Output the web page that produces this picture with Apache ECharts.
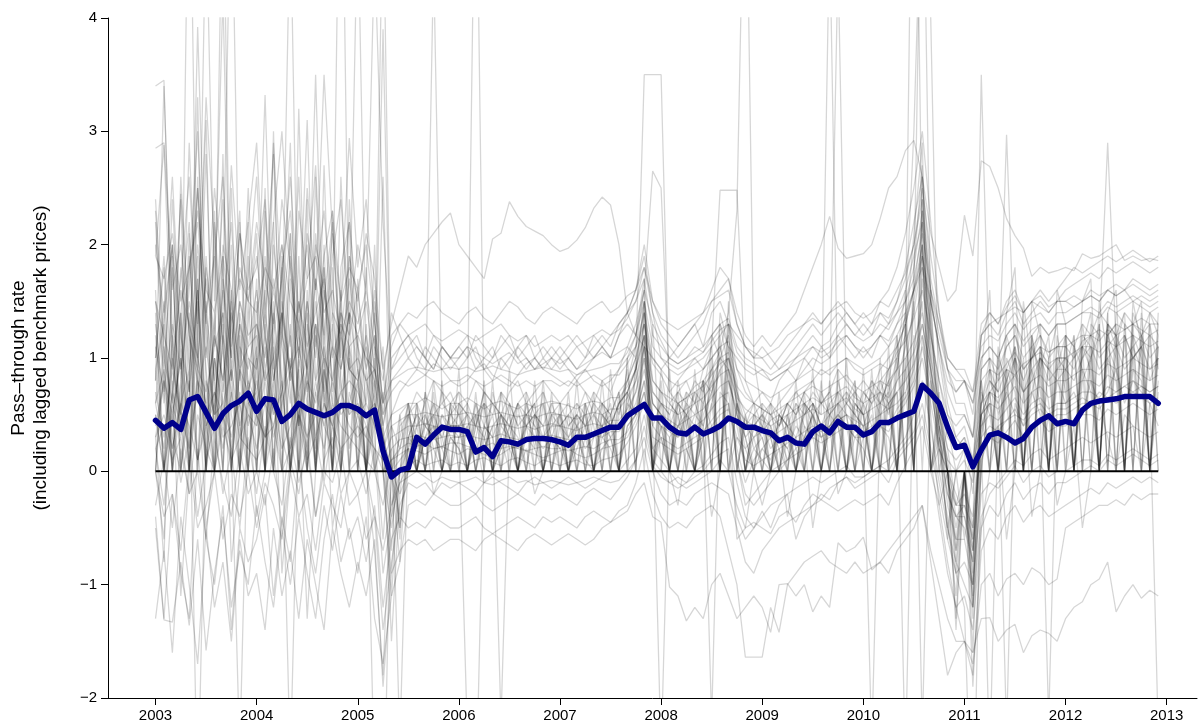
<!DOCTYPE html>
<html>
<head>
<meta charset="utf-8">
<script src="https://cdn.jsdelivr.net/npm/echarts@6/dist/echarts.min.js"></script>
<style>
  html, body { margin: 0; padding: 0; background: #ffffff; }
  #chart { width: 1199px; height: 726px; }
</style>
</head>
<body>
<div id="chart"></div>
<script>
// Monthly pass-through rates, January 2003 to December 2012 (one value per month).
const startYear = 2003;
const yearTicks = [2003, 2004, 2005, 2006, 2007, 2008, 2009, 2010, 2011, 2012, 2013];
const yTitle = 'Pass\u2013through rate\n(including lagged benchmark prices)';

// Average pass-through rate across all products (thick blue line)
const meanRate = [
  0.45,0.38,0.43,0.37,0.63,0.66,0.52,0.38,0.51,0.58,0.62,0.69,
  0.53,0.64,0.63,0.44,0.50,0.60,0.55,0.52,0.49,0.52,0.58,0.58,
  0.55,0.49,0.54,0.18,-0.05,0.01,0.03,0.30,0.24,0.32,0.39,0.37,
  0.37,0.35,0.17,0.21,0.13,0.27,0.26,0.24,0.28,0.29,0.29,0.28,
  0.26,0.23,0.30,0.30,0.33,0.36,0.39,0.39,0.49,0.54,0.59,0.47,
  0.47,0.39,0.34,0.33,0.39,0.33,0.36,0.40,0.47,0.44,0.39,0.39,
  0.36,0.34,0.27,0.30,0.25,0.24,0.35,0.40,0.34,0.44,0.39,0.39,
  0.32,0.35,0.43,0.43,0.47,0.50,0.53,0.76,0.69,0.60,0.39,0.21,
  0.23,0.04,0.19,0.32,0.34,0.30,0.25,0.29,0.39,0.45,0.49,0.42,
  0.44,0.42,0.54,0.60,0.62,0.63,0.64,0.66,0.66,0.66,0.66,0.60
];

// Individual product rates (thin grey lines)
const rate01 = [
  1.2,0,1.8,0.4,2.1,0,1.5,0.3,1.9,0,1.1,0.6,
  1.7,0,2.2,0.5,1.3,0,1.6,0.2,2.0,0,0.9,1.4,
  0,1.8,0.3,-0.6,0.4,0.2,0.6,0,0.5,0.3,0.7,0.4,
  0.5,0.3,0.6,0.2,0.4,0.5,0.3,0.6,0.4,0.5,0.3,0.4,
  0.4,0.3,0.5,0.4,0.6,0.5,0.4,0.6,0.8,1.0,1.3,0.6,
  0.5,0.4,0.3,0.5,0.6,0.4,0.7,1.0,1.2,0.6,0.2,0.3,
  0.4,0.2,0.3,0.1,0.3,0.5,0.6,0.4,0.5,0.7,0.6,0.5,
  0.4,0.6,0.7,0.5,0.8,1.1,1.4,1.9,0.9,0.3,-0.2,-0.4,
  -0.4,-0.8,0.6,0.9,0.5,0.7,1.0,0,1.2,0.8,0,1.1,
  0.7,0,1.0,1.2,0,1.3,1.1,0,1.2,1.0,0,1.1
];
const rate02 = [
  0,0.9,0,1.4,0,2.6,0.8,0,1.7,0.5,0,2.2,
  0,1.3,0,1.9,0.7,0,2.4,0,1.1,0,1.6,0,
  1.2,0,2.0,0,-0.9,0,0.3,0.5,0,0.8,0.2,0,
  0.6,0,0.4,0.7,0,0.5,0.3,0,0.6,0.2,0.7,0,
  0.5,0.3,0,0.6,0.4,0,0.7,0.5,0.8,1.1,1.6,0,
  0.9,0.4,0,0.6,0.5,0.8,0,1.3,0.9,0,0.4,0.6,
  0,0.5,0.3,0,0.6,0.4,0,0.7,0.5,0,0.6,0.8,
  0,0.7,0.5,0,0.9,1.4,0,2.6,1.2,0.5,0,-0.9,
  0,-1.3,0.8,0,1.1,0.6,0,1.4,0,0.9,1.2,0,
  1.1,0,1.3,0.8,0,1.4,0,1.2,1.0,0,1.3,0.9
];
const rate03 = [
  0.8,1.5,0,0.6,2.9,1.1,0,2.3,0.4,1.6,0,1.3,
  2.1,0.6,0,1.8,0,0.9,1.4,0,2.7,0.5,0,1.1,
  0.6,0,1.5,0.9,0,-0.4,0,0.4,0.6,0,0.5,0.3,
  0.3,0.5,0,0.4,0.6,0.3,0,0.5,0.4,0,0.6,0.3,
  0,0.4,0.5,0,0.3,0.6,0,0.5,0.9,0,1.4,0.5,
  0.4,0,0.6,0.3,0,0.7,1.1,0,1.5,0.5,0.3,0,
  0.4,0.3,0,0.5,0.2,0,0.6,0.4,0,0.8,0.5,0,
  0.6,0.4,0,0.7,1.0,0,1.6,2.2,0,0.4,-0.6,0,
  0.2,-1.0,0,0.8,0.6,0,1.3,0.7,0,1.1,0.6,0,
  0.9,1.2,0,1.0,1.3,0,1.1,1.4,0,1.2,0.8,1.0
];
const rate04 = [
  1.6,0,1.1,2.4,0,1.3,3.1,0,0.7,2.0,0,1.5,
  0.4,2.5,0,1.2,2.9,0,0.6,1.7,0,2.3,0.8,0,
  1.7,0.5,0,2.6,0,0.2,0.5,0,0.7,0.4,0,0.6,
  0,0.4,0.5,0,0.7,0.4,0.3,0,0.5,0.6,0,0.4,
  0.5,0,0.4,0.6,0,0.5,0.3,0,1.0,1.2,1.7,0,
  0,0.6,0.5,0,0.4,0.8,0,1.4,1.1,0,0.5,0.2,
  0.3,0,0.5,0.4,0,0.6,0.5,0,0.7,0.4,0,0.6,
  0.5,0,0.8,0.6,0,1.2,2.1,2.9,0,0.6,0,-1.3,
  0,-0.7,0.5,0,1.0,0.8,0,1.5,0.9,0,1.0,1.3,
  0,1.1,0.9,0,1.5,1.0,0,1.3,1.2,0,1.4,1.2
];
const rate05 = [
  0.6,0.9,0.3,0,1.2,0.8,0,1.0,0.5,0,0.9,0.7,
  0,1.1,0.6,0,0.9,1.3,0,0.7,1.0,0,1.2,0.5,
  0.8,0,1.1,0.4,-0.3,0,0.2,0.4,0,0.5,0.3,0,
  0.3,0.4,0,0.3,0.5,0,0.4,0.3,0,0.5,0.4,0,
  0.3,0,0.4,0.3,0,0.5,0.4,0,0.6,0.5,1.0,0,
  0.4,0.3,0,0.5,0.4,0,0.6,0.9,0,0.3,0.2,0,
  0.2,0.3,0,0.4,0.3,0,0.5,0.3,0,0.5,0.4,0,
  0.3,0.5,0,0.6,0.7,0,1.1,1.5,0,0.2,0,-0.5,
  0,-0.6,0.4,0.6,0,0.7,0.5,0,0.9,0.6,0,0.8,
  0.6,0,0.9,0.7,0,1.0,0.8,0,0.9,0.8,0,0.7
];
const rate06 = [
  0.3,-0.8,1.9,0,0.6,3.3,0,1.4,0,2.5,0.4,0,
  1.5,0,3.0,0.3,0,1.9,0,2.6,0.6,0,1.8,2.2,
  0,1.3,0,0.4,-1.5,-0.2,0,0.6,0,0.4,0.3,0.5,
  0.4,0,0.5,0.6,0,0.3,0.5,0,0.6,0.4,0,0.5,
  0,0.5,0.4,0,0.5,0.4,0,0.6,0.7,0,1.2,0.4,
  0.6,0,0.4,0.5,0,0.6,0.9,0,1.3,0.7,0,0.3,
  0,0.4,0.2,0,0.5,0.6,0,0.4,0.6,0,0.7,0.5,
  0,0.8,0.6,0,1.0,1.6,0,2.4,1.0,0,-0.4,-1.1,
  0,-1.6,0.3,0.7,0,1.2,0.9,0,1.0,1.3,0,0.9,
  1.2,0,1.1,1.4,0,1.2,1.3,0,1.5,1.1,0,1.3
];
const rate07 = [
  0,-0.6,0.8,-1.1,0,0.9,-0.5,0,1.3,-0.8,0,0.7,
  -0.4,0,1.1,-0.9,0,0.6,-1.3,0,0.9,-0.5,0,1.0,
  0.5,0,-0.7,-1.8,0,-0.5,0.2,0,0.3,-0.2,0,0.3,
  0.2,0,0.3,-0.1,0,0.2,0.3,0,0.2,-0.2,0,0.3,
  0.2,0,0.3,0.1,0,0.2,0.3,0,0.4,0.5,0.7,0.2,
  0.3,0,-0.3,0.2,0,0.3,-0.4,0,0.6,-0.6,-0.5,0,
  -0.3,0,0.2,-0.4,0,0.3,-0.5,0,0.4,-0.2,0,0.3,
  0.2,0,0.4,0.3,0,0.7,0,1.2,0.5,-0.3,0,-1.4,
  0,-1.9,-0.5,0,0.4,-0.6,0,0.7,-0.4,0,0.5,-0.3,
  0,0.4,-0.5,0,0.6,0.3,0,0.5,0.4,0,0.6,0.4
];
const rate08 = [
  2.2,0.7,0,1.4,0,1.9,0.9,0,2.8,0,1.2,0,
  1.0,0,1.5,0,2.1,0.4,0,1.3,0,1.8,0,2.4,
  0.9,0,0.5,1.1,0,-0.8,0.3,0,0.4,0.6,0,0.5,
  0.7,0,0.6,0.4,0,0.7,0.5,0,0.4,0.6,0,0.5,
  0.6,0,0.5,0.4,0,0.6,0.5,0,0.7,0.9,1.5,0,
  0.5,0,0.8,0.4,0,0.5,0.7,0,1.1,0.8,0,0.4,
  0.5,0,0.4,0.6,0,0.3,0.5,0,0.6,0.7,0,0.6,
  0.5,0,0.6,0.8,0,1.0,0,1.8,1.3,0.4,0,-0.7,
  0,-1.1,0.5,0.6,0,0.8,1.1,0,1.2,0.7,0,1.0,
  1.0,0,1.2,1.1,0,1.3,1.2,0,1.4,1.2,0,1.2
];
const rate09 = [
  0.5,0,0.7,0.4,0,0.8,0.6,0,0.5,0.9,0,0.6,
  0.7,0,0.4,0.8,0,0.5,0.9,0,0.6,0.4,0,0.7,
  0.4,0,0.6,0.3,0,0.1,0.2,0,0.3,0.4,0,0.3,
  0.2,0,0.4,0.3,0,0.2,0.4,0,0.3,0.2,0,0.3,
  0.3,0,0.2,0.4,0,0.3,0.2,0,0.4,0.5,0.8,0,
  0.3,0,0.5,0.2,0,0.6,0.4,0,0.8,0.5,0,0.2,
  0.1,0,0.3,0.2,0,0.4,0.3,0,0.5,0.4,0,0.5,
  0.4,0,0.6,0.7,0,0.9,1.5,2.0,0,0.5,0,-0.6,
  0,-0.9,0.9,1.6,0,1.4,1.8,0,1.5,1.2,0,1.6,
  1.3,0,1.5,1.7,0,1.4,1.6,0,1.3,1.5,0,1.4
];
const rate10 = [
  1.0,1.8,0,2.6,1.2,0,1.9,0.8,0,1.5,2.3,0,
  0.9,0,2.0,1.3,0,3.2,0.7,0,1.6,1.1,0,1.9,
  1.1,0,0.8,0.2,0,0.3,0.6,0,0.5,0.2,0,0.6,
  0.5,0,0.3,0.6,0,0.4,0.6,0,0.5,0.3,0,0.6,
  0.4,0,0.6,0.5,0,0.4,0.6,0,0.7,0.5,1.1,0,
  0.7,0,0.4,0.6,0,0.4,0.8,0,0.9,0.4,0,0.5,
  0.4,0,0.5,0.3,0,0.6,0.4,0,0.5,0.6,0,0.4,
  0.6,0,0.5,0.9,0,1.3,0,2.3,0.8,0.2,0,-0.8,
  0,-1.2,0.6,1.0,0,0.9,0.7,0,1.1,0.9,0,1.2,
  0.8,0,1.1,0.9,0,1.2,1.0,0,1.1,0.9,0,1.0
];
const rate11 = [
  0,1.3,2.0,0,0.9,1.6,0,2.2,1.1,0,1.4,0.8,
  0,2.3,1.0,0,1.7,0.6,0,2.1,1.3,0,2.6,0.9,
  0,0.7,1.4,0,-1.1,0,0.5,0.3,0,0.6,0.4,0,
  0.6,0.5,0,0.4,0.3,0,0.6,0.4,0,0.5,0.6,0,
  0.4,0.5,0,0.3,0.6,0,0.5,0.7,0,0.9,1.2,0,
  0.6,0.5,0,0.4,0.7,0,1.2,1.0,0,0.6,0.3,0,
  0.5,0.4,0,0.3,0.5,0,0.6,0.4,0,0.6,0.5,0,
  0.7,0.6,0,0.8,1.2,0,1.8,2.7,0,0.3,-0.5,0,
  0,-0.7,0.3,0.9,0.7,0,1.0,0.8,0,1.0,0.9,0,
  1.2,1.1,0,1.3,1.2,0,1.4,1.3,0,1.2,1.3,0
];
const rate12 = [
  1.4,0,0.5,1.0,0,1.7,0.4,0,1.2,0.7,0,1.9,
  0.5,0,1.4,0.8,0,1.0,1.5,0,0.8,1.3,0,0.6,
  0.9,0,0.4,0.7,0,-0.2,0.4,0,0.3,0.5,0,0.4,
  0.4,0,0.5,0.3,0,0.5,0.2,0,0.4,0.5,0,0.3,
  0.5,0,0.3,0.5,0,0.4,0.5,0,0.6,0.8,1.2,0,
  0.4,0,0.6,0.5,0,0.3,0.6,0,1.0,0.6,0,0.4,
  0.3,0,0.5,0.4,0,0.5,0.6,0,0.4,0.5,0,0.7,
  0.5,0,0.7,0.6,0,0.9,0,1.7,1.1,0.3,0,-0.3,
  0,-0.5,0.7,0.5,0,1.0,0.8,0,0.7,1.0,0,0.9,
  0.9,0,0.8,1.0,0,1.1,0.9,0,1.0,1.1,0,0.8
];
const rate13 = [
  1.9,1.7,2.1,1.5,1.8,2.3,1.6,1.4,1.9,1.3,1.7,1.5,
  1.4,1.8,1.6,2.0,1.5,1.3,1.7,1.9,1.4,1.6,1.2,1.5,
  1.3,1.6,1.1,0.8,1.4,1.2,1.0,1.1,1.0,0.9,1.1,1.0,
  1.0,1.1,1.05,1.0,0.95,1.0,1.05,0.95,1.0,0.9,0.95,1.0,
  0.95,1.0,0.9,0.95,1.0,1.05,1.0,1.05,1.1,1.3,1.6,1.3,
  1.15,1.0,0.95,1.0,1.05,1.1,1.2,1.3,1.35,1.1,1.0,0.95,
  0.9,0.85,0.9,0.95,1.0,1.05,1.1,1.0,1.05,1.15,1.2,1.1,
  1.05,1.1,1.2,1.15,1.3,1.4,1.6,1.9,1.5,1.1,0.8,0.7,
  0.8,0.6,1.0,1.1,1.0,1.2,1.3,1.15,1.25,1.3,1.2,1.3,
  1.3,1.35,1.4,1.45,1.4,1.5,1.45,1.5,1.55,1.5,1.45,1.5
];
const rate14 = [
  1.1,0.7,1.3,0.9,1.5,1.0,0.6,1.2,0.8,1.4,0.9,1.1,
  1.2,0.8,1.0,1.4,0.9,1.1,0.7,1.3,1.0,0.8,1.2,0.9,
  1.0,0.8,0.9,0.5,0.7,0.8,0.75,0.8,0.85,0.8,0.75,0.8,
  0.8,0.85,0.8,0.75,0.8,0.85,0.8,0.75,0.8,0.75,0.8,0.8,
  0.75,0.8,0.75,0.8,0.85,0.8,0.85,0.85,0.95,1.1,1.4,1.0,
  0.9,0.8,0.75,0.8,0.85,0.9,1.0,1.1,1.15,0.9,0.8,0.75,
  0.7,0.65,0.7,0.75,0.8,0.85,0.9,0.85,0.9,0.95,1.0,0.9,
  0.85,0.9,0.95,0.9,1.05,1.15,1.35,1.6,1.2,0.8,0.5,0.4,
  0.5,0.3,0.8,0.9,0.85,0.95,1.05,0.9,1.0,1.05,0.95,1.0,
  1.0,1.05,1.1,1.1,1.05,1.15,1.1,1.15,1.2,1.15,1.1,1.15
];
const rate15 = [
  0.4,0.8,0.5,1.0,0.3,0.7,1.1,0.5,0.6,0.9,0.4,0.8,
  0.6,0.9,0.5,0.7,1.0,0.4,0.8,0.6,0.9,0.5,0.7,0.8,
  0.7,0.5,0.6,0.3,0.5,0.55,0.6,0.6,0.65,0.6,0.55,0.6,
  0.6,0.65,0.6,0.55,0.6,0.62,0.58,0.55,0.6,0.56,0.6,0.62,
  0.6,0.58,0.55,0.6,0.62,0.6,0.65,0.65,0.75,0.9,1.2,0.8,
  0.7,0.65,0.6,0.65,0.7,0.75,0.85,0.95,1.0,0.75,0.65,0.6,
  0.55,0.5,0.55,0.6,0.65,0.7,0.75,0.7,0.75,0.8,0.85,0.75,
  0.7,0.75,0.8,0.75,0.9,1.0,1.15,1.4,1.0,0.6,0.3,0.2,
  0.3,0.1,0.6,0.7,0.65,0.75,0.85,0.7,0.8,0.85,0.75,0.8,
  0.8,0.85,0.9,0.9,0.85,0.95,0.9,0.95,1.0,0.95,0.9,0.95
];
const rate16 = [
  0.3,0.5,0.2,0.6,0.4,0.1,0.5,0.7,0.3,0.4,0.6,0.2,
  0.5,0.3,0.6,0.2,0.4,0.7,0.3,0.5,0.2,0.6,0.4,0.3,
  0.4,0.3,0.2,0.1,0.3,0.35,0.4,0.4,0.42,0.4,0.38,0.4,
  0.4,0.42,0.4,0.38,0.4,0.42,0.4,0.38,0.4,0.37,0.4,0.42,
  0.4,0.38,0.36,0.4,0.42,0.4,0.45,0.45,0.55,0.7,1.0,0.6,
  0.5,0.45,0.4,0.45,0.5,0.55,0.65,0.75,0.8,0.55,0.45,0.4,
  0.35,0.3,0.35,0.4,0.45,0.5,0.55,0.5,0.55,0.6,0.65,0.55,
  0.5,0.55,0.6,0.55,0.7,0.8,0.95,1.2,0.8,0.4,0.1,0.0,
  0.1,-0.1,0.4,0.5,0.45,0.55,0.65,0.5,0.6,0.65,0.55,0.6,
  0.6,0.65,0.7,0.7,0.65,0.75,0.7,0.75,0.8,0.75,0.7,0.75
];
const rate17 = [
  0.2,0.4,0.1,0.3,-0.2,0.5,0.2,0.0,0.4,0.1,0.3,0.2,
  0.1,0.3,0.4,0.0,0.2,0.5,0.1,0.3,-0.1,0.4,0.2,0.3,
  0.2,0.1,0.0,-0.3,0.1,0.2,0.25,0.22,0.25,0.2,0.22,0.25,
  0.25,0.22,0.2,0.22,0.25,0.2,0.22,0.2,0.18,0.2,0.22,0.2,
  0.2,0.18,0.2,0.22,0.2,0.25,0.28,0.28,0.35,0.5,0.8,0.4,
  0.3,0.25,0.2,0.25,0.3,0.35,0.45,0.55,0.6,0.1,-0.3,-0.2,
  -0.1,0.0,0.05,0.1,0.15,0.2,0.3,0.25,0.3,0.35,0.4,0.3,
  0.3,0.35,0.4,0.35,0.5,0.6,0.75,1.0,0.6,0.2,-0.2,-0.4,
  -0.3,-0.5,0.2,0.3,0.25,0.35,0.45,0.3,0.4,0.45,0.35,0.4,
  0.4,0.45,0.5,0.5,0.45,0.55,0.5,0.55,0.6,0.55,0.5,0.55
];
const rate18 = [
  -0.3,0.1,-0.5,0.2,-0.2,0.0,-0.6,0.3,-0.1,-0.4,0.2,-0.2,
  0.0,-0.3,0.2,-0.5,0.1,-0.2,0.3,-0.4,0.0,-0.1,0.2,-0.3,
  -0.2,0.0,-0.4,-0.7,-0.3,-0.1,-0.05,0.0,-0.05,-0.1,-0.05,-0.08,
  -0.1,-0.08,-0.05,-0.1,-0.12,-0.08,-0.05,-0.1,-0.08,-0.12,-0.1,-0.08,
  -0.1,-0.12,-0.1,-0.08,-0.05,-0.08,-0.1,-0.08,0.0,0.1,0.4,0.05,
  -0.05,-0.1,-0.15,-0.1,-0.05,0.0,0.1,0.15,0.2,-0.4,-0.6,-0.5,
  -0.4,-0.3,-0.25,-0.2,-0.15,-0.1,-0.05,-0.1,-0.05,0.0,0.05,-0.05,
  -0.05,0.0,0.05,0.0,0.15,0.25,0.35,0.6,0.2,-0.2,-0.6,-0.9,
  -0.8,-1.0,-0.2,-0.1,-0.15,-0.05,0.05,-0.1,0.0,0.05,-0.05,0.0,
  0.0,0.05,0.1,0.1,0.05,0.15,0.1,0.15,0.2,0.15,0.1,0.15
];
const rate19 = [
  1.5,1.2,0.9,1.6,1.3,1.0,1.7,1.1,1.4,0.8,1.5,1.2,
  1.3,1.0,1.6,1.2,0.9,1.5,1.1,1.4,1.7,1.0,1.3,1.1,
  1.2,1.0,0.9,0.6,0.8,0.85,0.9,0.92,0.9,0.88,0.9,0.92,
  0.9,0.92,0.88,0.9,0.93,0.9,0.88,0.85,0.88,0.9,0.92,0.9,
  0.88,0.9,0.85,0.88,0.9,0.92,0.95,0.95,1.05,1.2,1.5,1.1,
  1.0,0.95,0.9,0.95,1.0,1.05,1.15,1.25,1.3,1.05,0.95,0.9,
  0.85,0.8,0.85,0.9,0.95,1.0,1.1,1.05,1.1,1.2,1.3,1.2,
  1.15,1.2,1.3,1.25,1.4,1.5,1.7,2.1,1.6,1.2,0.9,0.8,
  0.8,0.7,1.1,1.2,1.15,1.3,1.4,1.25,1.35,1.4,1.3,1.4,
  1.4,1.45,1.5,1.55,1.5,1.6,1.55,1.6,1.65,1.6,1.55,1.6
];
const rate20 = [
  0.7,0.3,0.9,0.5,0.2,0.8,0.4,1.0,0.6,0.3,0.7,0.5,
  0.4,0.8,0.3,0.6,0.9,0.5,0.2,0.7,0.4,0.8,0.5,0.6,
  0.5,0.6,0.4,0.2,0.4,0.45,0.5,0.5,0.52,0.5,0.48,0.5,
  0.5,0.52,0.5,0.48,0.5,0.52,0.5,0.48,0.5,0.47,0.5,0.52,
  0.5,0.48,0.46,0.5,0.52,0.5,0.55,0.55,0.65,0.8,1.1,0.7,
  0.6,0.55,0.5,0.55,0.6,0.65,0.75,0.85,0.9,0.65,0.55,0.5,
  0.45,0.4,0.45,0.5,0.55,0.6,0.65,0.6,0.65,0.7,0.75,0.65,
  0.6,0.65,0.7,0.65,0.8,0.9,1.05,1.3,0.9,0.5,0.2,0.1,
  0.2,0.0,0.5,0.6,0.55,0.65,0.75,0.6,0.7,0.75,0.65,0.7,
  0.7,0.75,0.8,0.8,0.75,0.85,0.8,0.85,0.9,0.85,0.8,0.85
];
const rate21 = [
  2.4,1.1,0.6,1.8,0.9,2.0,1.3,0.5,1.6,1.0,2.2,0.7,
  1.0,1.9,0.8,1.3,2.1,0.6,1.5,1.0,1.8,0.7,1.4,1.2,
  1.6,0.9,1.2,0.4,0.9,1.1,1.2,1.25,1.3,1.2,1.15,1.2,
  1.25,1.2,1.15,1.2,1.25,1.3,1.2,1.15,1.2,1.1,1.15,1.2,
  1.15,1.2,1.1,1.15,1.2,1.25,1.2,1.25,1.35,1.5,1.8,1.4,
  1.0,0.9,0.85,0.9,0.95,1.0,1.1,1.2,1.3,0.9,0.7,0.6,
  0.55,0.5,0.6,0.7,0.8,0.9,1.0,0.95,1.0,1.1,1.2,1.1,
  1.0,1.1,1.2,1.1,1.3,1.5,1.8,2.3,1.6,1.0,0.5,0.3,
  0.4,0.1,0.9,1.0,0.9,1.1,1.2,1.0,1.1,1.2,1.05,1.1,
  1.1,1.15,1.2,1.2,1.15,1.25,1.2,1.25,1.3,1.25,1.2,1.25
];
const rate22 = [
  0.5,0.0,0.6,0.3,0.8,0.1,0.4,0.6,0.2,0.7,0.3,0.5,
  0.2,0.6,0.4,0.7,0.1,0.5,0.3,0.8,0.4,0.2,0.6,0.4,
  0.3,0.4,0.2,0.0,0.2,0.28,0.3,0.32,0.3,0.28,0.3,0.32,
  0.3,0.32,0.3,0.28,0.3,0.33,0.3,0.28,0.3,0.27,0.3,0.32,
  0.3,0.28,0.26,0.3,0.32,0.3,0.35,0.35,0.45,0.6,0.9,0.5,
  0.4,0.35,0.3,0.35,0.4,0.45,0.55,0.65,0.7,0.1,-0.2,-0.3,
  -0.2,-0.1,0.0,0.1,0.2,0.3,0.35,0.3,0.35,0.45,0.5,0.4,
  0.35,0.4,0.45,0.4,0.55,0.65,0.8,1.1,0.7,0.3,-0.1,-0.3,
  -0.2,-0.4,0.3,0.4,0.35,0.45,0.55,0.4,0.5,0.55,0.45,0.5,
  0.5,0.55,0.6,0.6,0.55,0.65,0.6,0.65,0.7,0.65,0.6,0.65
];
const rate23 = [
  3.4,3.45,1.0,0.5,1.9,0.8,2.8,0.6,1.4,2.2,0.9,1.7,
  2.6,1.2,2.9,1.5,0.8,2.3,1.7,2.7,1.1,1.9,2.4,1.3,
  2.0,1.6,4.6,2.2,0.9,1.0,1.1,1.2,1.0,0.9,1.1,1.0,
  1.1,1.2,1.0,0.9,1.0,1.1,1.2,1.0,0.9,1.0,1.1,1.0,
  0.9,1.0,1.1,1.0,1.2,1.1,1.0,1.2,1.4,1.5,1.7,1.2,
  1.1,1.0,1.1,1.2,1.3,1.1,1.4,1.5,1.3,1.2,1.1,1.0,
  1.1,1.0,0.9,1.0,1.1,1.2,1.3,1.2,1.3,1.4,1.3,1.2,
  1.3,1.2,1.4,1.3,1.5,1.8,2.2,2.6,1.7,1.3,0.9,0.7,
  0.8,0.5,1.2,1.4,1.3,1.5,1.6,1.4,1.5,1.6,1.5,1.6,
  1.7,1.8,1.75,1.8,1.85,1.9,1.85,1.9,1.95,1.9,1.85,1.9
];
const rate24 = [
  2.85,2.9,1.6,2.0,1.2,2.5,1.4,1.9,2.6,1.1,1.8,1.5,
  2.2,1.7,1.3,2.4,1.8,1.0,2.1,1.6,2.3,1.4,1.2,1.9,
  1.5,2.1,1.7,0.9,1.3,1.6,1.9,1.8,2.0,2.1,2.2,2.28,
  2.0,1.9,1.8,1.7,2.05,2.1,2.38,2.25,2.16,2.12,2.08,2.0,
  1.94,1.97,2.04,2.15,2.32,2.42,2.35,2.0,1.4,1.2,1.1,1.0,
  0.9,1.0,0.95,1.0,1.1,1.05,1.2,1.3,1.1,1.0,0.9,0.85,
  0.9,0.8,0.85,0.9,1.0,1.1,1.2,1.1,1.15,1.3,1.4,1.3,
  1.2,1.3,1.4,1.35,1.5,1.7,2.0,2.4,1.6,1.3,1.0,0.9,
  0.9,0.7,1.3,1.4,1.3,1.45,1.55,1.4,1.5,1.55,1.45,1.5,
  1.6,1.65,1.7,1.75,1.7,1.8,1.75,1.8,1.85,1.8,1.75,1.8
];
const rate25 = [
  1.3,0.6,2.4,0.9,1.7,3.0,1.2,0.4,2.0,1.6,0.8,2.5,
  0.9,1.6,2.8,0.7,1.9,1.2,3.1,0.8,1.5,2.2,1.0,1.7,
  1.1,0.8,0.5,3.9,0.4,-0.6,0.5,0.7,0.6,0.8,0.7,0.6,
  0.7,0.6,0.8,0.7,0.6,0.5,0.7,0.8,0.6,0.7,0.8,0.7,
  0.6,0.7,0.8,0.7,0.6,0.8,0.7,0.9,1.1,1.0,3.5,3.5,
  3.5,0.6,0.7,0.8,0.6,0.9,1.0,1.1,0.8,0.5,0.3,0.4,
  0.5,0.3,0.4,0.6,0.5,0.7,0.8,0.6,0.7,0.9,0.8,0.7,
  0.8,0.7,0.9,1.0,1.1,1.3,1.6,2.0,1.2,0.8,0.4,0.2,
  0.3,-0.2,0.9,1.0,0.8,1.1,1.2,0.9,1.0,1.2,1.0,1.1,
  1.2,1.1,1.3,1.2,1.4,1.3,1.2,1.4,1.3,1.2,1.4,1.3
];
const rate26 = [
  1.0,1.9,0.7,1.4,2.2,0.6,1.8,1.2,2.4,0.9,1.5,1.1,
  1.6,0.9,1.3,2.0,1.1,2.6,0.8,1.7,1.2,2.1,0.9,1.4,
  1.2,1.5,0.9,0.4,0.8,0.9,1.0,0.9,1.1,1.0,0.9,1.0,
  0.9,1.0,1.1,0.9,0.8,1.0,0.9,1.1,1.0,0.9,1.0,0.9,
  1.0,0.9,0.8,0.9,1.0,1.1,1.0,1.2,1.3,1.2,1.6,2.65,
  2.5,0.7,0.8,0.9,1.0,0.9,1.1,2.48,2.48,2.48,0.8,0.6,
  0.7,0.6,0.8,0.9,0.8,1.0,0.9,1.1,1.0,1.2,1.1,1.0,
  1.1,1.0,1.2,1.3,1.4,1.6,1.9,2.2,1.5,1.1,0.7,0.5,
  0.5,0.3,1.0,1.1,1.0,1.2,1.3,1.1,1.2,1.3,1.2,1.3,
  1.3,1.35,1.4,1.4,1.35,1.45,1.4,1.45,1.5,1.45,1.4,1.45
];
const rate27 = [
  0.6,1.4,2.0,0.8,1.6,2.5,1.0,1.9,0.7,1.3,2.1,1.5,
  1.9,1.2,0.7,1.8,2.3,1.3,0.9,2.0,1.6,0.8,1.5,2.2,
  1.4,0.9,1.6,0.5,1.0,1.1,1.2,1.1,1.0,1.2,1.1,1.0,
  1.1,1.0,1.2,1.1,1.0,1.2,1.1,1.0,1.1,1.2,1.0,1.1,
  1.0,1.1,1.2,1.1,1.0,1.1,1.2,1.3,1.4,1.6,2.0,1.5,
  1.3,1.2,1.1,1.2,1.3,1.4,1.6,1.8,1.7,1.4,1.2,1.1,
  1.2,1.1,1.2,1.3,1.4,1.6,1.8,2.0,2.25,1.97,1.88,1.9,
  1.92,2.0,2.23,2.5,2.6,2.83,2.92,2.6,2.1,1.8,1.5,1.6,
  2.26,1.9,2.74,2.69,2.5,2.23,2.08,1.97,1.72,1.8,1.75,1.77,
  1.8,1.77,1.92,1.88,1.9,1.95,2.0,1.86,1.9,1.86,1.88,1.86
];
const rate28 = [
  1.9,2.88,0.9,1.7,2.6,1.3,3.3,2.0,1.1,2.7,1.6,2.2,
  2.9,1.4,2.2,3.0,1.8,1.0,2.5,1.6,3.5,2.1,1.5,2.94,
  1.8,2.4,1.3,0.6,1.1,1.3,1.2,1.0,0.9,1.1,1.0,0.9,
  1.0,1.1,0.9,1.0,1.1,0.9,1.0,1.1,1.2,1.0,0.9,1.0,
  1.1,1.0,0.9,1.0,1.1,1.2,1.1,1.3,1.4,1.6,1.9,1.4,
  1.2,1.1,1.0,1.1,1.2,1.3,1.5,1.6,1.7,1.3,1.1,1.0,
  1.0,0.9,1.0,1.1,1.2,1.3,1.4,1.3,1.4,1.5,1.4,1.3,
  1.4,1.3,1.5,1.6,1.8,2.1,2.5,3.0,2.2,1.4,0.9,0.6,
  0.6,0.3,1.2,1.3,1.2,1.4,1.5,1.3,1.4,1.5,1.4,1.5,
  1.5,1.45,1.5,1.55,1.5,1.6,1.55,1.6,1.5,1.55,1.5,1.55
];
const rate29 = [
  -0.4,-1.3,-0.2,-0.9,-1.3,0.2,-0.6,-1.0,-0.3,-1.4,-0.5,-0.8,
  -0.6,-0.2,-1.1,-0.4,-0.8,0.1,-0.5,-0.9,-0.3,-0.7,-0.2,-0.6,
  -0.4,-0.8,-0.3,-1.2,-0.6,-0.4,-0.5,-0.45,-0.5,-0.4,-0.45,-0.5,
  -0.5,-0.45,-0.4,-0.5,-0.55,-0.5,-0.45,-0.4,-0.45,-0.5,-0.4,-0.45,
  -0.4,-0.45,-0.5,-0.4,-0.35,-0.4,-0.45,-0.35,-0.3,-0.1,0.2,-0.2,
  -0.4,-0.5,-0.45,-0.5,-0.4,-0.35,-0.3,-0.4,-0.7,-1.0,-1.64,-1.64,
  -1.64,-1.2,-1.42,-1.0,-0.9,-0.8,-0.75,-0.7,-0.8,-0.85,-0.9,-0.8,
  -0.9,-0.85,-0.8,-0.7,-0.6,-0.5,-0.4,-0.3,-0.7,-1.0,-1.3,-1.5,
  -1.5,-1.6,-1.3,-1.29,-1.5,-1.4,-1.35,-1.6,-1.45,-1.4,-1.43,-1.5,
  -1.3,-1.2,-1.15,-1.0,-0.95,-0.8,-1.24,-1.1,-1.0,-1.12,-1.05,-1.1
];
const rate30 = [
  -1.3,-0.7,-1.6,-0.4,-1.0,-1.7,-0.5,-1.2,-0.8,-1.5,-0.6,-1.1,
  -0.9,-1.4,-0.5,-1.1,-0.7,-1.3,-0.6,-1.0,-1.4,-0.5,-0.9,-1.2,
  -0.8,-1.1,-0.6,-1.9,-0.9,-0.7,-0.6,-0.65,-0.6,-0.7,-0.65,-0.6,
  -0.6,-0.65,-0.7,-0.6,-0.55,-0.6,-0.65,-0.7,-0.6,-0.55,-0.6,-0.65,
  -0.6,-0.55,-0.6,-0.65,-0.6,-0.5,-0.45,-0.4,-0.35,-0.2,-0.1,-0.4,
  -0.45,-1.02,-1.1,-1.32,-1.2,-1.3,-1.0,-0.9,-1.1,-1.3,-1.2,-1.1,
  -1.2,-1.42,-1.0,-0.99,-1.1,-1.0,-1.24,-1.1,-1.2,-0.63,-0.71,-0.67,
  -0.58,-0.87,-0.8,-0.9,-0.7,-0.6,-0.5,-0.3,-0.8,-1.3,-1.8,-1.6,
  -1.5,-1.7,-1.0,-0.9,-1.1,-0.95,-0.9,-1.0,-0.85,-0.9,-1.0,-0.95,
  -0.5,-0.45,-0.4,-0.35,-0.3,-0.3,-0.25,-0.3,-0.2,-0.25,-0.2,-0.2
];
const rate31 = [
  -0.5,-1.31,-1.33,-0.8,-1.36,-0.6,-1.58,-0.9,-0.4,-1.2,-0.7,-1.0,
  -0.3,-0.8,-1.2,-0.5,-1.0,-0.4,-0.9,-1.3,-0.6,-0.2,-0.8,-0.5,
  -0.9,-0.4,-1.3,-1.7,-1.1,-0.8,-0.3,-0.25,-0.3,-0.2,-0.25,-0.3,
  -0.3,-0.25,-0.2,-0.3,-0.35,-0.3,-0.25,-0.2,-0.25,-0.3,-0.2,-0.25,
  -0.2,-0.25,-0.3,-0.2,-0.15,-0.2,-0.25,-0.15,-0.05,0.1,0.3,0.0,
  -0.2,-0.3,-0.25,-0.3,-0.2,-0.15,-0.1,-0.15,-0.2,-0.5,-0.8,-0.9,
  -0.7,-0.6,-0.5,-0.45,-0.4,-0.35,-0.3,-0.25,-0.3,-0.35,-0.3,-0.25,
  -0.3,-0.25,-0.2,-0.3,-0.1,0.05,0.2,0.4,0.0,-0.3,-0.8,-1.2,
  -1.5,-1.8,-0.7,-0.5,-0.6,-0.4,-0.3,-0.45,-0.35,-0.3,-0.4,-0.35,
  -0.3,-0.25,-0.2,-0.15,-0.2,-0.1,-0.15,-0.1,-0.05,-0.1,-0.05,-0.1
];
const rate32 = [
  0,-0.4,-0.2,-0.7,0.1,-0.5,-0.3,0,-0.6,-0.2,-0.4,0,
  -0.5,-0.1,-0.3,-0.6,0,-0.4,-0.2,-0.7,-0.1,-0.3,-0.5,0,
  -0.2,-0.6,-0.4,-1.4,-0.8,-0.3,-0.1,-0.15,-0.1,-0.2,-0.1,-0.15,
  -0.1,-0.15,-0.2,-0.1,-0.05,-0.1,-0.15,-0.2,-0.1,-0.05,-0.1,-0.15,
  -0.1,-0.05,-0.1,-0.15,-0.1,-0.05,0,0.0,0.1,0.2,0.5,0.1,
  0.0,-0.1,-0.05,-0.1,0,0.05,0.15,0.25,0.3,-0.1,-0.4,-0.5,
  -0.35,-0.5,-0.3,-0.2,-0.6,-0.4,-0.3,-0.2,-0.25,-0.1,-0.05,-0.15,
  -0.1,-0.05,0,-0.1,0.1,0.2,0.3,0.5,0.1,-0.4,-0.9,-1.2,
  -1.1,-1.4,-0.5,-0.3,-0.4,-0.2,-0.1,-0.25,-0.15,-0.1,-0.2,-0.1,
  -0.1,-0.05,0,0.05,0,0.1,0.05,0.1,0.15,0.1,0.05,0.1
];
const rate33 = [
  0.8,3.4,1.2,0.5,6.0,0.9,0.7,1.1,5.5,0.6,1.3,1.0,
  0.9,1.4,0.8,1.2,5.0,0.7,1.0,1.3,0.6,1.1,6.5,0.9,
  0.8,1.2,0.7,5.2,0.4,-0.5,0.3,0.5,0.4,0.3,0.5,0.4,
  0.4,0.5,6.0,0.4,0.3,0.5,0.4,0.6,0.5,0.4,0.3,0.5,
  0.4,0.5,0.6,0.4,0.5,0.3,0.4,0.6,0.7,0.9,1.3,0.6,
  0.5,0.4,0.6,0.5,0.7,0.6,0.8,1.0,0.9,0.6,0.4,0.5,
  0.6,0.5,0.4,0.6,0.5,0.7,0.6,0.5,4.8,0.5,0.6,0.7,
  0.6,0.8,0.7,0.9,1.0,1.2,7.0,1.9,1.4,0.6,0.2,-0.3,
  -0.3,-0.6,3.5,0.8,0.7,0.9,1.1,0.8,1.0,1.1,0.9,1.0,
  0.9,1.0,1.1,1.0,1.2,2.9,1.1,1.2,1.0,1.1,1.2,1.1
];
const rate34 = [
  0.3,0.8,0.2,0.6,0.9,-3.0,0.4,0.7,0.5,0.2,-2.5,0.6,
  0.5,0.3,0.7,0.4,-2.6,0.5,0.8,0.3,0.6,0.4,0.7,0.5,
  0.6,0.4,-2.8,-3.5,0.2,-2.4,0.3,0.2,0.4,0.3,0.2,0.4,
  0.3,-2.3,-3.0,0.2,0.4,-2.2,0.3,0.2,0.4,0.3,0.2,0.3,
  0.2,0.3,0.4,0.2,0.3,0.4,0.3,0.4,0.5,0.7,1.1,0.4,
  -2.5,0.3,0.4,0.3,0.5,0.4,-2.2,0.7,0.6,0.2,-0.1,0.1,
  0.2,0.1,0.3,0.2,0.4,0.3,0.5,0.3,0.4,0.5,0.4,0.3,
  0.4,-2.4,0.5,0.6,0.7,-2.6,1.2,-2.3,0.8,0.2,-0.5,-0.9,
  -1.2,-3.5,0.3,-2.6,0.5,-2.3,0.6,0.4,0.7,0.5,-2.2,0.6,
  0.6,0.7,0.5,0.8,0.6,0.7,0.9,0.6,0.8,0.7,0.6,-2.3
];
const rate35 = [
  1.5,0.9,2.0,1.2,0.7,3.92,1.4,0.8,1.6,5.5,1.1,0.9,
  1.3,0.8,1.7,1.1,0.6,1.5,1.0,3.5,0.9,1.4,0.7,1.2,
  5.0,1.0,0.8,0.3,-0.7,0.5,0.6,0.4,0.5,4.5,0.6,0.5,
  0.6,0.5,0.4,0.6,0.5,0.7,0.6,0.4,0.5,0.6,0.7,0.5,
  0.5,0.6,0.4,0.5,0.7,0.6,0.5,0.7,0.8,1.0,1.4,0.7,
  0.6,0.5,0.7,0.6,0.8,0.7,0.9,1.06,1.4,2.3,6.0,1.0,
  0.5,0.6,0.4,0.5,0.7,0.6,0.5,0.6,0.7,4.5,0.6,0.5,
  0.7,0.6,0.8,0.9,1.1,1.3,1.6,6.0,1.3,0.5,0.1,-0.4,
  -0.5,-0.8,0.6,0.8,0.7,2.97,0.9,0.7,0.8,1.0,0.9,0.8,
  0.9,0.8,1.0,1.1,0.9,1.0,1.1,0.9,1.0,1.1,0.9,1.0
];
const rate36 = [
  2.3,1.0,0.6,2.45,1.2,0.9,5.0,1.5,4.2,0.8,1.3,0.7,
  1.1,3.32,0.9,1.4,0.8,1.2,0.9,1.5,0.7,1.1,0.9,1.4,
  0.9,0.6,1.2,0.2,-0.4,0.4,0.5,0.6,0.4,0.5,0.6,0.7,
  0.5,0.6,0.4,0.7,0.6,0.5,0.4,0.6,0.7,0.5,0.4,0.6,
  0.6,0.4,0.5,0.7,0.5,0.6,0.4,0.6,0.7,0.9,1.5,0.8,
  0.7,0.6,0.5,0.7,0.6,0.8,0.7,0.9,1.0,0.7,0.5,0.6,
  0.4,0.6,0.5,0.4,0.6,0.5,0.7,0.6,0.5,0.6,0.7,0.6,
  0.5,0.7,0.6,0.8,0.9,1.4,3.0,5.5,4.0,0.4,-0.3,-0.6,
  -0.6,-1.0,0.5,0.7,0.6,0.8,1.0,0.7,0.9,1.0,0.8,0.9,
  1.0,0.9,1.1,1.2,1.0,1.1,1.2,1.0,1.1,1.2,1.0,1.1
];
const rate37 = [
  0.9,1.3,0.4,1.1,0.7,1.6,0.5,1.2,0.8,1.5,0.3,1.0,
  0.7,1.2,0.5,1.5,0.9,0.4,1.3,0.8,1.1,0.6,1.4,0.9,
  0.8,1.1,0.6,0.2,0.5,0.7,0.8,0.9,0.85,0.95,0.9,0.8,
  0.75,0.8,0.9,0.95,0.85,0.8,0.75,0.85,0.95,1.0,0.9,0.85,
  0.8,0.75,0.85,0.9,0.8,0.75,0.8,0.9,1.0,1.1,1.3,0.95,
  0.85,0.7,0.6,0.65,0.75,0.8,0.9,1.0,1.05,0.7,0.4,0.3,
  0.35,0.45,0.5,0.6,0.7,0.75,0.8,0.9,0.85,0.95,1.0,0.95,
  0.9,0.95,1.0,1.1,1.2,1.35,1.6,1.8,1.5,1.1,0.6,0.3,
  0.2,0.0,0.5,0.7,0.8,0.9,0.85,0.95,1.0,1.1,1.05,1.1,
  1.1,1.0,1.15,1.2,1.25,1.2,1.3,1.25,1.3,1.35,1.3,1.3
];
const rate38 = [
  0.9,0,1.2,0,0.7,1.5,0,1.0,0,1.3,0.6,0,
  1.1,0,0.8,1.4,0,0.9,0,1.2,0.7,0,1.5,0,
  0.8,0,1.0,0,-0.5,0,0.6,0,0.7,0,0.8,0,
  0.9,0,0.7,0,0.8,0,0.9,0,0.7,0,0.8,0,
  0.6,0,0.8,0,0.7,0,0.9,0,1.0,0,1.5,0,
  0.8,0,0.7,0,0.9,0,1.0,0,1.3,0,0.5,0,
  0.6,0,0.7,0,0.8,0,0.9,0,0.8,0,1.0,0,
  0.9,0,1.0,0,1.2,0,1.5,0,1.6,0,0.4,0,
  -0.6,0,0.8,0,1.0,0,1.1,0,1.2,0,1.0,0,
  1.2,0,1.1,0,1.3,0,1.2,0,1.3,0,1.2,0
];
const rate39 = [
  0,1.1,0,0.8,0,1.7,0,0.6,1.4,0,0.9,0,
  0,1.6,0,0.7,1.2,0,1.0,0,1.8,0,0.6,1.1,
  0,0.9,0,0.3,0,0.5,0,0.6,0,0.7,0,0.6,
  0,0.6,0,0.8,0,0.7,0,0.6,0,0.8,0,0.7,
  0,0.7,0,0.6,0,0.8,0,0.7,0,1.0,0,1.3,
  0,0.9,0,0.7,0,0.8,0,1.2,0,0.6,0,0.5,
  0,0.6,0,0.5,0,0.7,0,0.8,0,0.9,0,0.8,
  0,0.9,0,1.1,0,1.3,0,2.0,0,0.7,0,-0.7,
  0,-1.2,0,0.7,0,0.9,0,1.0,0,1.1,0,1.0,
  0,1.2,0,1.1,0,1.3,0,1.2,0,1.4,0,1.1
];
const rate40 = [
  0.2,-0.3,0.5,-0.1,0.3,-0.4,0.1,0.4,-0.2,0.2,-0.5,0.3,
  -0.2,0.4,0.0,-0.3,0.3,-0.1,0.2,-0.4,0.1,0.3,-0.2,0.0,
  0.1,-0.2,0.2,-0.9,-0.4,-0.1,0.05,0.1,0.05,0.08,0.1,0.05,
  0.08,0.05,0.1,0.12,0.08,0.05,0.1,0.12,0.08,0.05,0.1,0.08,
  0.05,0.08,0.1,0.06,0.05,0.1,0.12,0.15,0.25,0.4,0.6,0.2,
  0.1,0.0,-0.1,-0.15,-0.1,-0.05,0.0,0.1,0.0,-0.3,-0.5,-0.45,
  -0.5,-0.55,-0.4,-0.35,-0.45,-0.3,-0.2,-0.25,-0.15,-0.1,-0.05,-0.1,
  -0.05,0.0,0.05,0.1,0.2,0.3,0.5,0.8,0.4,-0.1,-0.5,-0.8,
  -1.0,-1.2,-0.4,-0.2,-0.1,0.0,0.1,0.05,0.15,0.2,0.1,0.15,
  0.2,0.25,0.3,0.25,0.3,0.35,0.3,0.35,0.4,0.35,0.3,0.35
];
const rate41 = [
  0.6,0.2,1.0,0.4,1.4,0.1,0.8,0.5,1.1,0.2,0.9,0.4,
  0.8,0.3,1.2,0.5,0.2,1.0,0.6,0.1,0.9,0.4,1.3,0.2,
  0.5,0.3,0.7,0.0,0.1,0.15,0.2,0.18,0.15,0.2,0.22,0.18,
  0.15,0.2,0.18,0.15,0.12,0.15,0.2,0.22,0.18,0.15,0.12,0.15,
  0.18,0.2,0.15,0.12,0.15,0.2,0.22,0.25,0.3,0.45,0.7,0.3,
  0.25,0.2,0.15,0.2,0.25,0.3,0.4,0.5,0.55,0.3,0.1,0.05,
  0.1,0.15,0.2,0.25,0.3,0.35,0.4,0.35,0.4,0.45,0.5,0.45,
  0.4,0.45,0.5,0.55,0.6,0.7,0.9,1.3,0.9,0.4,0.0,-0.2,
  -0.4,-0.7,0.1,0.3,0.4,0.45,0.5,0.45,0.55,0.6,0.5,0.55,
  0.55,0.6,0.65,0.6,0.7,0.65,0.7,0.75,0.7,0.75,0.7,0.75
];
const rate42 = [
  2.0,1.4,2.6,1.1,1.8,2.2,1.3,2.5,1.7,1.0,2.1,1.6,
  1.8,2.4,1.2,1.7,2.6,1.4,2.0,1.1,1.9,2.3,1.5,1.8,
  1.6,2.0,1.3,0.6,1.2,1.3,1.4,1.35,1.45,1.5,1.4,1.35,
  1.3,1.4,1.45,1.35,1.3,1.4,1.5,1.45,1.35,1.3,1.4,1.45,
  1.4,1.35,1.3,1.4,1.45,1.5,1.4,1.45,1.55,1.6,1.8,1.5,
  1.35,1.3,1.25,1.3,1.35,1.4,1.5,1.55,1.6,1.3,1.1,1.05,
  1.0,1.05,1.1,1.2,1.25,1.3,1.35,1.3,1.4,1.45,1.5,1.4,
  1.35,1.4,1.5,1.45,1.6,1.75,2.0,2.5,1.9,1.4,1.0,0.9,
  0.8,0.6,1.2,1.3,1.35,1.4,1.45,1.4,1.5,1.45,1.4,1.5,
  1.5,1.55,1.5,1.6,1.55,1.6,1.65,1.6,1.7,1.65,1.6,1.65
];

const productRates = [
  rate01, rate02, rate03, rate04, rate05, rate06, rate07, rate08, rate09,
  rate10, rate11, rate12, rate13, rate14, rate15, rate16, rate17, rate18,
  rate19, rate20, rate21, rate22, rate23, rate24, rate25, rate26, rate27,
  rate28, rate29, rate30, rate31, rate32, rate33, rate34, rate35, rate36,
  rate37, rate38, rate39, rate40, rate41, rate42
];

// Month index -> decimal year on the x axis
function toPoints(values) {
  return values.map((v, i) => [startYear + i / 12, v]);
}

const lastMonth = startYear + (meanRate.length - 1) / 12;
const fontFamily = '"Liberation Sans", Arial, Helvetica, sans-serif';
const minusFmt = (v) => (v < 0 ? '\u2212' + Math.abs(v) : String(v));

const greySeries = productRates.map((values) => ({
  type: 'line',
  data: toPoints(values),
  symbol: 'none',
  silent: true,
  z: 1,
  lineStyle: { color: 'rgba(0,0,0,0.16)', width: 1.3 }
}));

const chart = echarts.init(document.getElementById('chart'), null, { renderer: 'canvas' });
chart.setOption({
  animation: false,
  backgroundColor: '#ffffff',
  grid: { left: 107, right: 2, top: 18, bottom: 28, containLabel: false },
  xAxis: {
    type: 'value',
    min: 2002.53,
    max: 2013.3,
    axisLine: { show: true, onZero: false, lineStyle: { color: '#000', width: 1 } },
    axisTick: { show: true, customValues: yearTicks, length: 7, lineStyle: { color: '#000', width: 1 } },
    axisLabel: {
      customValues: yearTicks, color: '#000', fontSize: 15, fontFamily, margin: 10,
      formatter: (v) => String(v)
    },
    splitLine: { show: false }
  },
  yAxis: {
    type: 'value',
    min: -2,
    max: 4,
    interval: 1,
    name: yTitle,
    nameLocation: 'middle',
    nameRotate: 90,
    nameGap: 56,
    nameTextStyle: { color: '#000', fontSize: 19, lineHeight: 22, fontFamily },
    axisLine: { show: true, onZero: false, lineStyle: { color: '#000', width: 1 } },
    axisTick: { show: true, length: 7, lineStyle: { color: '#000', width: 1 } },
    axisLabel: { color: '#000', fontSize: 15, fontFamily, margin: 11, formatter: minusFmt },
    splitLine: { show: false }
  },
  series: greySeries.concat([
    {
      type: 'line',
      data: [[startYear, 0], [lastMonth, 0]],
      symbol: 'none',
      silent: true,
      z: 2,
      lineStyle: { color: '#000', width: 2 }
    },
    {
      type: 'line',
      data: toPoints(meanRate),
      symbol: 'none',
      silent: true,
      z: 3,
      lineStyle: { color: '#00008b', width: 5.5, join: 'round', cap: 'round' }
    }
  ])
});
</script>
</body>
</html>
